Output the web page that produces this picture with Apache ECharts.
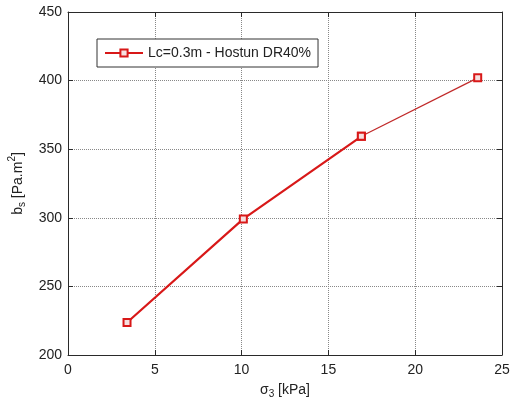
<!DOCTYPE html>
<html>
<head>
<meta charset="utf-8">
<script src="https://cdn.jsdelivr.net/npm/echarts@6/dist/echarts.min.js"></script>
<style>html,body{margin:0;padding:0;background:#fff;overflow:hidden;}#c{width:510px;height:398px;}</style>
</head>
<body>
<div id="c"></div>
<script>
var sigma3 = [3.4, 10.1, 16.9, 23.6];
var bs = [223.7, 299.2, 359.4, 402.0];
var xTicks = [0, 5, 10, 15, 20, 25];
var yTicks = [200, 250, 300, 350, 400, 450];
var seriesName = 'Lc=0.3m - Hostun DR40%';

var pts = sigma3.map(function (x, i) { return [x, bs[i]]; });
var red = '#d81818';
var font = 'Liberation Sans, Arial, sans-serif';
var chart = echarts.init(document.getElementById('c'));
var axisCommon = {
  axisLine: { show: true, onZero: false, lineStyle: { color: '#2a2a2a', width: 1 } },
  axisTick: { show: true, inside: true, length: 5, lineStyle: { color: '#2a2a2a' } },
  axisLabel: { color: '#222', fontSize: 14, fontFamily: font }
};
chart.setOption({
  animation: false,
  backgroundColor: '#fff',
  grid: { left: 68, right: 8, top: 12, bottom: 43, containLabel: false, outerBoundsMode: 'none' },
  legend: {
    left: 97, top: 39,
    padding: [7, 7, 7, 7],
    backgroundColor: '#fff',
    borderColor: '#333', borderWidth: 1,
    itemWidth: 38, itemHeight: 9, itemGap: 0,
    data: [seriesName],
    textStyle: { fontSize: 14, fontFamily: font, color: '#222' }
  },
  xAxis: [
    Object.assign({}, axisCommon, {
      type: 'value', min: xTicks[0], max: xTicks[xTicks.length - 1], interval: 5,
      axisLabel: Object.assign({}, axisCommon.axisLabel, { margin: 8 }),
      splitLine: { show: true, lineStyle: { type: 'dotted', color: '#888', width: 1 } },
      name: '{n|σ}{sub|3}{n| [kPa]}',
      nameLocation: 'middle', nameGap: 26,
      nameTextStyle: {
        rich: {
          n: { fontSize: 14, fontFamily: font, color: '#222' },
          sub: { fontSize: 10, fontFamily: font, color: '#222', padding: [8, 0, 0, 0] }
        }
      }
    }),
    Object.assign({}, axisCommon, {
      type: 'value', position: 'top', min: 0, max: 25, interval: 5,
      axisLabel: { show: false }, splitLine: { show: false }
    })
  ],
  yAxis: [
    Object.assign({}, axisCommon, {
      type: 'value', min: yTicks[0], max: yTicks[yTicks.length - 1], interval: 50,
      axisLabel: Object.assign({}, axisCommon.axisLabel, { margin: 6 }),
      splitLine: { show: true, lineStyle: { type: 'dotted', color: '#888', width: 1 } },
      name: '{n|b}{sub|s}{n| [Pa.m}{sup|2}{n|]}',
      nameLocation: 'middle', nameGap: 40, nameRotate: 90,
      nameTextStyle: {
        rich: {
          n: { fontSize: 14, fontFamily: font, color: '#222' },
          sub: { fontSize: 10, fontFamily: font, color: '#222', padding: [10, 0, 0, 0] },
          sup: { fontSize: 10, fontFamily: font, color: '#222', padding: [0, 0, 10, 0] }
        }
      }
    }),
    Object.assign({}, axisCommon, {
      type: 'value', position: 'right', min: 200, max: 450, interval: 50,
      axisLabel: { show: false }, splitLine: { show: false }
    })
  ],
  series: [
    {
      name: seriesName, type: 'line', data: pts.slice(0, 3),
      symbol: 'rect', symbolSize: 7, showAllSymbol: true,
      lineStyle: { color: red, width: 2.2 },
      itemStyle: { color: '#f6e0e0', borderColor: red, borderWidth: 2 },
      z: 3
    },
    {
      name: seriesName + ' ', type: 'line', data: pts.slice(2),
      symbol: 'rect', symbolSize: 7,
      lineStyle: { color: '#c02828', width: 1.2 },
      itemStyle: { color: '#f6e0e0', borderColor: red, borderWidth: 2 },
      z: 2
    }
  ]
});
</script>
</body>
</html>
